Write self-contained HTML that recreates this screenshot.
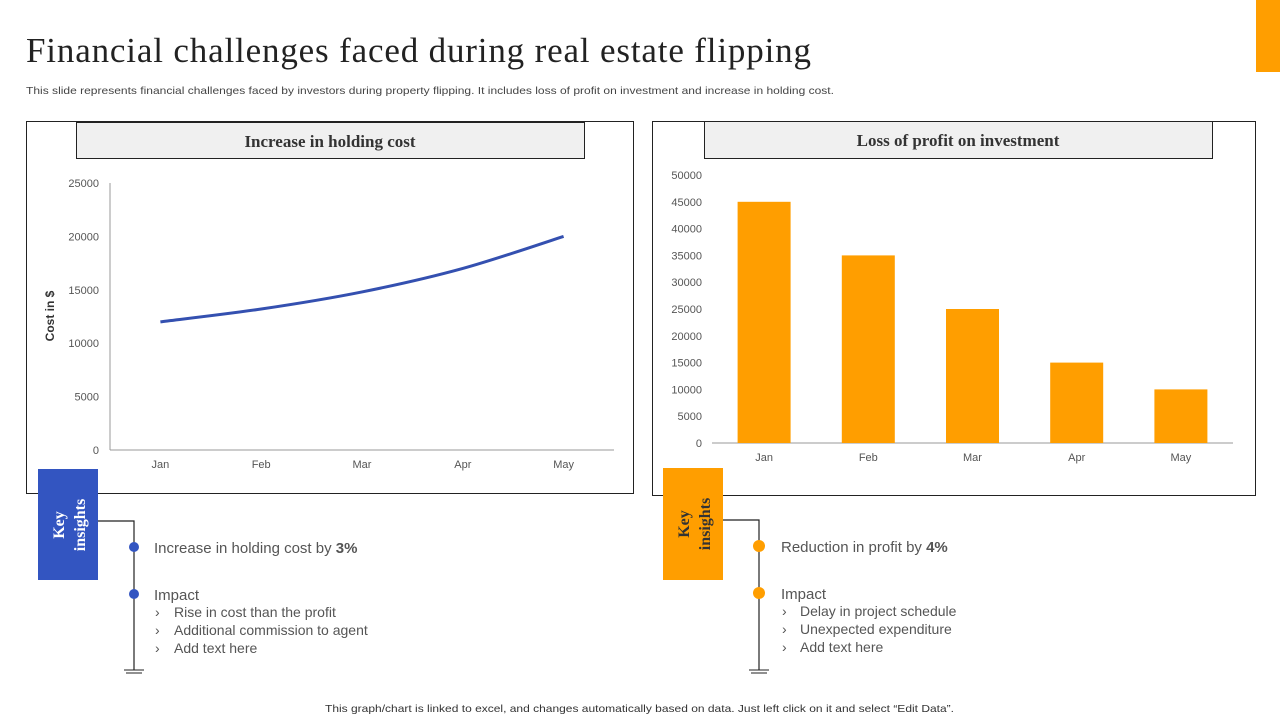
<!DOCTYPE html>
<html><head><meta charset="utf-8"><style>
html,body{margin:0;padding:0;background:#fff;}
body{width:1280px;height:720px;overflow:hidden;position:relative;font-family:"Liberation Sans",sans-serif;}
svg{position:absolute;left:0;top:0;}
</style></head><body>
<svg id="s" width="1280" height="720" viewBox="0 0 1280 720">
<rect x="1256" y="0" width="24" height="72" fill="#FF9E00"/>
<text x="26" y="62" font-family="Liberation Serif,serif" font-size="35" fill="#222" textLength="785" lengthAdjust="spacing">Financial challenges faced during real estate flipping</text>
<text x="26" y="94" font-size="10.5" fill="#444" textLength="808" lengthAdjust="spacingAndGlyphs">This slide represents financial challenges faced by investors during property flipping. It includes loss of profit on investment and increase in holding cost.</text>

<rect x="26.5" y="121.5" width="607" height="372" fill="none" stroke="#222"/>
<rect x="76.5" y="122.5" width="508" height="36" fill="#F0F0F0" stroke="#222"/>
<text x="330" y="147" text-anchor="middle" font-family="Liberation Serif,serif" font-weight="bold" font-size="17" fill="#333">Increase in holding cost</text>
<text transform="translate(54,316) rotate(-90)" text-anchor="middle" font-size="12" font-weight="bold" fill="#333">Cost in $</text>
<g id="lc"></g>

<rect x="652.5" y="121.5" width="603" height="374" fill="none" stroke="#222"/>
<rect x="704.5" y="121.5" width="508" height="37" fill="#F0F0F0" stroke="#222"/>
<text x="958" y="146" text-anchor="middle" font-family="Liberation Serif,serif" font-weight="bold" font-size="17" fill="#333">Loss of profit on investment</text>
<g id="bc"></g>

<!-- left insights -->
<rect x="38" y="469" width="60" height="111" fill="#3355C1"/>
<text transform="translate(64,525) rotate(-90)" text-anchor="middle" font-family="Liberation Serif,serif" font-weight="bold" font-size="16" fill="#fff"><tspan x="0" dy="0">Key</tspan><tspan x="0" dy="21">insights</tspan></text>
<polyline points="98,521 134,521 134,670" fill="none" stroke="#222" stroke-width="1.2"/>
<line x1="124" y1="670" x2="144" y2="670" stroke="#222"/>
<line x1="126" y1="673" x2="142" y2="673" stroke="#222"/>
<circle cx="134" cy="547" r="5" fill="#3355C1"/>
<circle cx="134" cy="594" r="5" fill="#3355C1"/>
<text x="154" y="553" font-size="15" fill="#555">Increase  in holding cost by <tspan font-weight="bold">3%</tspan></text>
<text x="154" y="600" font-size="15" fill="#555">Impact</text>
<g font-size="14" fill="#555">
<text x="155" y="617">›</text><text x="174" y="617">Rise in cost than the profit</text>
<text x="155" y="635">›</text><text x="174" y="635">Additional  commission to agent</text>
<text x="155" y="653">›</text><text x="174" y="653">Add text here</text>
</g>

<!-- right insights -->
<rect x="663" y="468" width="60" height="112" fill="#FF9E00"/>
<text transform="translate(689,524) rotate(-90)" text-anchor="middle" font-family="Liberation Serif,serif" font-weight="bold" font-size="16" fill="#333"><tspan x="0" dy="0">Key</tspan><tspan x="0" dy="21">insights</tspan></text>
<polyline points="723,520 759,520 759,670" fill="none" stroke="#222" stroke-width="1.2"/>
<line x1="749" y1="670" x2="769" y2="670" stroke="#222"/>
<line x1="751" y1="673" x2="767" y2="673" stroke="#222"/>
<circle cx="759" cy="546" r="6" fill="#FF9E00"/>
<circle cx="759" cy="593" r="6" fill="#FF9E00"/>
<text x="781" y="552" font-size="15" fill="#555">Reduction in profit by <tspan font-weight="bold">4%</tspan></text>
<text x="781" y="599" font-size="15" fill="#555">Impact</text>
<g font-size="14" fill="#555">
<text x="782" y="616">›</text><text x="800" y="616">Delay in project schedule</text>
<text x="782" y="634">›</text><text x="800" y="634">Unexpected expenditure</text>
<text x="782" y="652">›</text><text x="800" y="652">Add text here</text>
</g>

<text x="325" y="712" font-size="10.5" fill="#333" textLength="629" lengthAdjust="spacingAndGlyphs">This graph/chart is linked to excel,  and changes automatically based on data. Just left click on it and select “Edit Data”.</text>
</svg>
<script>
const months = ["Jan","Feb","Mar","Apr","May"];
const holdingCost = [12000,13200,14800,17000,20000];
const costTicks = [0,5000,10000,15000,20000,25000];
const profitLoss = [45000,35000,25000,15000,10000];
const profitTicks = [0,5000,10000,15000,20000,25000,30000,35000,40000,45000,50000];

const NS="http://www.w3.org/2000/svg";
function mk(parent,tag,attrs,txt){const e=document.createElementNS(NS,tag);for(const k in attrs)e.setAttribute(k,attrs[k]);if(txt!==undefined)e.textContent=txt;parent.appendChild(e);return e;}

// line chart
const lc=document.getElementById('lc');
const lx0=110,lx1=614,ly0=450,ly1=183,lmax=25000;
const ly=v=>ly0-(v/lmax)*(ly0-ly1);
const lband=(lx1-lx0)/months.length;
const lxc=i=>lx0+lband*(i+0.5);
let el=mk(lc,'line',{x1:lx0,y1:ly1,x2:lx0,y2:ly0,stroke:'#999'});


el=mk(lc,'line',{x1:lx0,y1:ly0,x2:lx1,y2:ly0,stroke:'#999'});


costTicks.forEach(t=>{
  const e=mk(lc,'text',{x:99,y:ly(t)+4,'text-anchor':'end','font-size':11,fill:'#555'},String(t));
  
  
});
months.forEach((m,i)=>{
  const e=mk(lc,'text',{x:lxc(i),y:468,'text-anchor':'middle','font-size':11,fill:'#555'},m);
  
  
});
const pts=holdingCost.map((v,i)=>[lxc(i),ly(v)]);
let d=`M${pts[0][0]},${pts[0][1]}`;
for(let i=0;i<pts.length-1;i++){
  const p0=pts[i-1]||pts[i],p1=pts[i],p2=pts[i+1],p3=pts[i+2]||p2;
  const c1=[p1[0]+(p2[0]-p0[0])/6,p1[1]+(p2[1]-p0[1])/6];
  const c2=[p2[0]-(p3[0]-p1[0])/6,p2[1]-(p3[1]-p1[1])/6];
  d+=` C${c1[0]},${c1[1]} ${c2[0]},${c2[1]} ${p2[0]},${p2[1]}`;
}
el=mk(lc,'path',{d:d,fill:'none',stroke:'#3450B0','stroke-width':3});



// bar chart
const bc=document.getElementById('bc');
const bx0=712,bx1=1233,by0=443,by1=175,bmax=50000;
const by=v=>by0-(v/bmax)*(by0-by1);
const bband=(bx1-bx0)/months.length;
const bxc=i=>bx0+bband*(i+0.5);
const bw=53;
el=mk(bc,'line',{x1:bx0,y1:by0,x2:bx1,y2:by0,stroke:'#999'});


profitTicks.forEach(t=>{
  const e=mk(bc,'text',{x:702,y:by(t)+4,'text-anchor':'end','font-size':11,fill:'#555'},String(t));
  
  
});
months.forEach((m,i)=>{
  const r=mk(bc,'rect',{x:bxc(i)-bw/2,y:by(profitLoss[i]),width:bw,height:by0-by(profitLoss[i]),fill:'#FF9E00'});
  
  
  const e=mk(bc,'text',{x:bxc(i),y:461,'text-anchor':'middle','font-size':11,fill:'#555'},m);
  
  
});
</script>
</body></html>
